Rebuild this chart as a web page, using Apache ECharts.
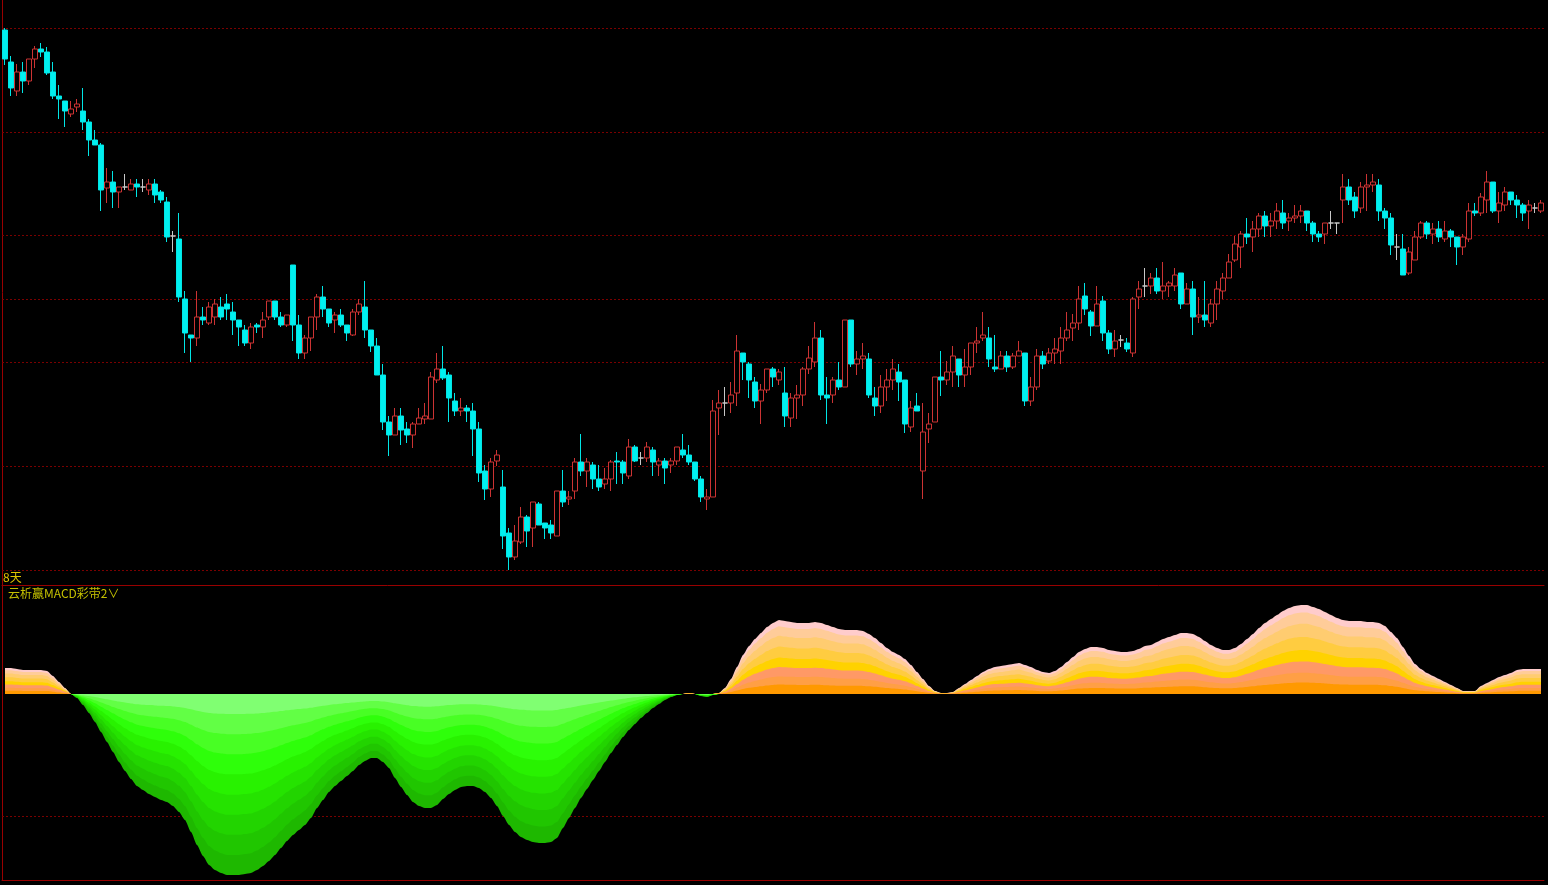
<!DOCTYPE html>
<html>
<head>
<meta charset="utf-8">
<script src="https://cdn.jsdelivr.net/npm/echarts@6/dist/echarts.min.js"></script>
<style>
html,body{margin:0;padding:0;background:#000;}
#c{width:1548px;height:885px;}
</style>
</head>
<body>
<div id="c"></div>
<script>
// ---- price data (one entry per trading day) ----
const open = [
 9.70,9.38,9.09,9.28,9.19,9.41,9.51,9.48,9.28,9.04,
 8.99,8.86,8.93,8.89,8.78,8.60,8.55,8.12,8.18,8.08,
 8.13,8.10,8.16,8.13,8.10,8.16,8.08,7.98,7.64,7.61,
 7.01,6.65,6.62,6.83,6.77,6.83,6.93,6.96,6.88,6.80,
 6.70,6.57,6.75,6.73,6.83,6.99,6.83,6.75,7.35,6.75,
 6.47,6.62,6.83,7.03,6.91,6.80,6.85,6.75,6.65,6.88,
 6.93,6.70,6.54,6.25,5.78,5.65,5.84,5.71,5.65,5.76,
 5.81,5.81,6.20,6.31,6.25,5.99,5.89,5.92,5.89,5.71,
 5.29,5.11,5.39,5.13,4.67,4.43,4.58,4.83,4.72,4.96,
 4.77,4.75,4.64,5.09,5.01,5.09,5.38,5.29,5.35,5.21,
 5.16,5.21,5.39,5.38,5.24,5.53,5.42,5.42,5.50,5.35,
 5.39,5.35,5.39,5.50,5.45,5.38,5.21,5.01,5.03,5.92,
 5.97,5.97,6.07,6.47,6.36,6.18,5.99,6.10,6.31,6.20,
 6.07,5.82,6.02,6.05,6.31,6.38,6.62,6.05,6.05,6.20,
 6.13,6.80,6.36,6.41,6.41,6.02,5.94,6.13,6.20,6.28,
 6.20,5.73,5.94,5.29,5.71,5.78,6.23,6.20,6.28,6.41,
 6.25,6.33,6.57,6.62,6.62,6.33,6.31,6.44,6.33,6.44,
 6.47,5.99,6.13,6.44,6.39,6.47,6.49,6.62,6.72,6.77,
 7.04,6.88,6.74,6.99,6.67,6.51,6.60,6.57,6.47,7.03,
 7.14,7.14,7.22,7.09,7.14,7.14,7.27,6.96,7.11,6.83,
 6.85,6.77,6.96,7.09,7.22,7.40,7.53,7.66,7.63,7.71,
 7.84,7.74,7.79,7.87,7.79,7.82,7.84,7.89,7.77,7.66,
 7.66,7.77,7.77,8.00,8.13,8.03,7.92,8.13,8.15,8.15,
 7.89,7.82,7.53,7.51,7.27,7.40,7.63,7.77,7.66,7.71,
 7.61,7.69,7.63,7.53,7.61,7.89,7.87,8.00,8.18,7.89,
 7.95,8.08,8.00,7.95,7.89,7.92,7.89
];
const close = [
 9.41,9.12,9.28,9.19,9.41,9.51,9.48,9.27,9.04,9.01,
 8.89,8.91,8.96,8.78,8.60,8.55,8.10,8.18,8.08,8.13,
 8.13,8.16,8.13,8.13,8.16,8.05,8.00,7.63,7.64,7.03,
 6.67,6.62,6.83,6.80,6.93,6.96,6.83,6.91,6.80,6.73,
 6.57,6.73,6.73,6.80,6.99,6.83,6.75,6.85,6.75,6.47,
 6.62,6.83,7.03,6.91,6.77,6.85,6.75,6.67,6.88,6.96,
 6.70,6.54,6.25,5.78,5.65,5.84,5.70,5.65,5.76,5.82,
 5.84,6.23,6.31,6.22,6.02,5.89,5.92,5.89,5.71,5.27,
 5.11,5.38,5.45,4.64,4.43,4.59,4.83,4.69,4.98,4.75,
 4.72,4.67,5.09,4.98,5.03,5.38,5.29,5.38,5.21,5.13,
 5.21,5.38,5.38,5.27,5.53,5.39,5.42,5.53,5.38,5.39,
 5.32,5.39,5.53,5.45,5.38,5.21,5.03,5.03,5.89,5.97,
 5.97,6.05,6.49,6.38,6.20,5.99,6.10,6.31,6.23,6.28,
 5.84,6.02,6.05,6.31,6.42,6.62,6.05,6.02,6.20,6.13,
 6.80,6.36,6.41,6.44,6.05,5.94,6.13,6.20,6.31,6.18,
 5.76,5.92,5.89,5.68,5.76,6.23,6.20,6.28,6.44,6.25,
 6.33,6.57,6.59,6.65,6.41,6.31,6.44,6.33,6.44,6.49,
 5.99,6.13,6.44,6.36,6.47,6.51,6.62,6.70,6.77,7.01,
 6.91,6.74,6.96,6.67,6.51,6.59,6.60,6.51,7.01,7.11,
 7.14,7.22,7.09,7.14,7.17,7.25,6.96,7.11,6.83,6.85,
 6.80,6.96,7.11,7.22,7.38,7.56,7.66,7.63,7.71,7.84,
 7.74,7.79,7.89,7.77,7.82,7.84,7.89,7.77,7.66,7.63,
 7.77,7.77,7.77,8.13,8.00,7.89,8.13,8.15,8.18,7.89,
 7.82,7.55,7.53,7.25,7.48,7.63,7.77,7.66,7.71,7.63,
 7.69,7.63,7.53,7.63,7.89,7.87,8.03,8.18,7.89,7.97,
 8.08,8.00,7.95,7.87,7.95,7.92,7.97
];
const low = [
 9.35,9.04,9.04,9.07,9.15,9.32,9.43,9.25,9.01,8.81,
 8.73,8.83,8.88,8.70,8.44,8.55,7.89,7.97,7.92,7.92,
 8.10,8.10,8.03,8.08,8.05,7.97,7.97,7.58,7.48,6.98,
 6.47,6.38,6.54,6.75,6.75,6.75,6.80,6.80,6.65,6.54,
 6.54,6.51,6.67,6.62,6.80,6.80,6.73,6.73,6.59,6.41,
 6.41,6.49,6.70,6.83,6.73,6.67,6.73,6.59,6.64,6.85,
 6.62,6.48,6.25,5.70,5.44,5.65,5.55,5.57,5.52,5.76,
 5.76,5.81,6.17,6.20,5.78,5.84,5.84,5.78,5.44,5.18,
 5.00,5.03,5.34,4.51,4.30,4.40,4.56,4.53,4.53,4.75,
 4.61,4.61,4.64,4.93,4.95,5.01,5.24,5.13,5.11,5.09,
 5.11,5.09,5.16,5.16,5.21,5.38,5.35,5.38,5.24,5.24,
 5.16,5.27,5.35,5.42,5.35,5.19,4.98,4.90,5.03,5.65,
 5.84,5.87,5.94,6.20,6.02,5.92,5.76,6.07,6.13,6.15,
 5.73,5.73,5.81,5.94,6.26,6.33,6.00,5.76,5.97,6.10,
 6.13,6.33,6.25,6.31,6.02,5.84,5.87,5.99,6.10,5.99,
 5.67,5.68,5.89,5.01,5.57,5.78,6.04,6.15,6.13,6.13,
 6.13,6.25,6.47,6.59,6.33,6.28,6.31,6.28,6.31,6.44,
 5.94,5.94,6.10,6.31,6.36,6.36,6.36,6.59,6.59,6.70,
 6.85,6.64,6.74,6.59,6.46,6.43,6.53,6.48,6.43,6.91,
 7.03,7.06,7.06,7.01,7.03,7.09,6.91,6.96,6.65,6.77,
 6.73,6.73,6.80,7.01,7.22,7.38,7.32,7.56,7.48,7.63,
 7.63,7.63,7.71,7.71,7.69,7.77,7.77,7.69,7.58,7.58,
 7.56,7.71,7.66,7.77,7.95,7.82,7.87,7.89,8.08,7.79,
 7.71,7.45,7.40,7.25,7.25,7.40,7.61,7.61,7.56,7.58,
 7.58,7.53,7.35,7.45,7.58,7.84,7.84,7.87,7.87,7.77,
 7.89,7.95,7.82,7.79,7.71,7.87,7.87
];
const high = [
 9.72,9.44,9.36,9.38,9.41,9.54,9.57,9.53,9.38,9.15,
 8.99,8.99,9.01,9.12,8.81,8.70,8.57,8.32,8.29,8.13,
 8.26,8.21,8.21,8.21,8.21,8.21,8.10,8.03,7.69,7.87,
 7.09,6.65,7.09,6.93,6.98,7.01,7.03,7.06,6.98,6.80,
 6.75,6.77,6.77,6.88,6.99,6.99,6.88,6.85,7.35,6.85,
 6.65,6.83,7.06,7.14,6.91,6.88,6.91,6.75,6.91,7.01,
 7.19,6.70,6.62,6.36,5.84,5.92,5.92,5.78,5.78,5.92,
 5.97,6.28,6.47,6.54,6.28,6.07,6.02,5.95,5.97,5.78,
 5.35,5.42,5.50,5.30,4.72,4.75,4.93,4.85,4.98,4.98,
 4.77,4.80,5.09,5.30,5.09,5.42,5.66,5.42,5.38,5.35,
 5.32,5.40,5.48,5.40,5.61,5.55,5.48,5.58,5.53,5.42,
 5.42,5.42,5.53,5.66,5.55,5.38,5.24,5.11,6.00,6.10,
 6.13,6.18,6.65,6.47,6.38,6.23,6.16,6.31,6.33,6.31,
 6.33,6.07,6.15,6.33,6.54,6.78,6.70,6.23,6.23,6.38,
 6.80,6.80,6.49,6.57,6.47,6.13,6.25,6.31,6.41,6.36,
 6.20,5.99,6.07,5.97,5.87,6.23,6.49,6.39,6.54,6.41,
 6.51,6.57,6.73,6.88,6.73,6.65,6.49,6.49,6.47,6.59,
 6.47,6.23,6.51,6.49,6.52,6.62,6.73,6.88,6.86,7.14,
 7.17,6.90,7.14,7.04,6.70,6.70,6.65,6.62,7.03,7.19,
 7.32,7.27,7.32,7.38,7.19,7.32,7.27,7.17,7.19,7.03,
 7.19,7.01,7.19,7.27,7.46,7.64,7.69,7.82,7.79,7.87,
 7.89,7.87,7.97,8.00,7.87,7.95,7.95,7.89,7.79,7.69,
 7.77,7.89,7.77,8.26,8.21,8.08,8.18,8.26,8.26,8.21,
 7.92,7.87,7.66,7.66,7.53,7.69,7.79,7.79,7.77,7.79,
 7.79,7.71,7.63,7.66,7.97,7.97,8.07,8.29,8.18,8.08,
 8.13,8.08,8.05,7.97,8.00,7.97,8.00
];
// dashed reference price levels drawn in the price panel
const priceLevels = [9.72, 8.68, 7.65, 7.01, 6.38, 5.34, 4.30];

// ---- MACD ribbon: outer envelope per day ----
const macd = [
 0.26,0.26,0.25,0.24,0.24,0.24,0.24,0.23,0.18,0.12,
 0.06,0.00,-0.04,-0.11,-0.19,-0.28,-0.38,-0.48,-0.58,-0.68,
 -0.77,-0.85,-0.92,-0.96,-1.00,-1.03,-1.06,-1.08,-1.12,-1.18,
 -1.26,-1.38,-1.51,-1.62,-1.71,-1.76,-1.79,-1.81,-1.81,-1.81,
 -1.80,-1.79,-1.76,-1.72,-1.67,-1.61,-1.54,-1.47,-1.41,-1.36,
 -1.31,-1.24,-1.14,-1.06,-0.98,-0.92,-0.87,-0.82,-0.77,-0.71,
 -0.67,-0.64,-0.64,-0.68,-0.74,-0.84,-0.93,-1.01,-1.08,-1.12,
 -1.14,-1.14,-1.11,-1.05,-1.00,-0.96,-0.93,-0.92,-0.92,-0.94,
 -0.98,-1.04,-1.12,-1.22,-1.31,-1.38,-1.43,-1.46,-1.48,-1.49,
 -1.49,-1.48,-1.44,-1.34,-1.24,-1.14,-1.04,-0.95,-0.86,-0.77,
 -0.68,-0.59,-0.51,-0.43,-0.36,-0.30,-0.24,-0.19,-0.14,-0.10,
 -0.06,-0.03,-0.01,0.00,0.01,0.00,-0.02,-0.03,-0.01,0.01,
 0.06,0.15,0.27,0.39,0.48,0.55,0.61,0.67,0.71,0.74,
 0.73,0.72,0.71,0.71,0.71,0.72,0.71,0.69,0.67,0.65,
 0.64,0.64,0.64,0.63,0.60,0.56,0.51,0.46,0.42,0.39,
 0.35,0.29,0.22,0.15,0.08,0.03,0.01,0.01,0.02,0.06,
 0.10,0.14,0.18,0.22,0.25,0.27,0.28,0.29,0.30,0.31,
 0.29,0.27,0.24,0.22,0.21,0.23,0.27,0.32,0.37,0.42,
 0.45,0.47,0.47,0.46,0.44,0.43,0.42,0.42,0.43,0.45,
 0.48,0.49,0.52,0.55,0.57,0.59,0.61,0.61,0.60,0.57,
 0.53,0.49,0.46,0.44,0.44,0.46,0.50,0.55,0.60,0.66,
 0.71,0.75,0.79,0.83,0.86,0.88,0.89,0.89,0.87,0.85,
 0.82,0.79,0.76,0.74,0.73,0.73,0.73,0.72,0.72,0.71,
 0.68,0.62,0.56,0.47,0.38,0.30,0.25,0.21,0.18,0.15,
 0.12,0.09,0.06,0.03,0.03,0.03,0.08,0.11,0.14,0.17,
 0.19,0.21,0.24,0.25,0.25,0.25,0.25
];
// ribbon bands: share of the envelope reached by each band (outer -> inner)
const posBandShare = [1, 0.916, 0.788, 0.641, 0.494, 0.366, 0.238, 0.128];
const posBandColors = ['#FFCCCC','#FFCC99','#FFCC70','#FFCC40','#FFD200','#FF9966','#FF9F45','#FF9900'];
const negBandShare = [1, 0.889, 0.778, 0.667, 0.556, 0.444, 0.333, 0.222, 0.111];
const negBandColors = ['#1EB800','#20C600','#22D400','#25E300','#28F200','#2EFF0A','#48FF24','#62FF45','#80FF72'];
const macdLevels = [-1.22];

const categories = open.map((_, i) => String(i + 1));
const kData = open.map((o, i) => [o, close[i], low[i], high[i]]);

const RED = '#990000';
const DASH = '#7A0000';

const series = [];
series.push({
  type: 'candlestick',
  xAxisIndex: 0, yAxisIndex: 0,
  data: kData,
  barWidth: 5,
  itemStyle: {
    color: '#000000',
    color0: '#00F0F0',
    borderColor: '#CC3333',
    borderColor0: '#00E6E6',
    borderColorDoji: '#C8C8C8',
    borderWidth: 1
  },
  markLine: {
    silent: true, symbol: 'none', z: 1,
    label: { show: false },
    lineStyle: { color: DASH, type: [2, 2], width: 1 },
    data: priceLevels.map(v => ({ yAxis: v }))
  }
});

// dashed level in MACD panel (behind ribbon)
series.push({
  type: 'line', xAxisIndex: 1, yAxisIndex: 1, data: [], z: 1,
  markLine: {
    silent: true, symbol: 'none', z: 1,
    label: { show: false },
    lineStyle: { color: DASH, type: [2, 2], width: 1 },
    data: macdLevels.map(v => ({ yAxis: v }))
  }
});

negBandShare.forEach((s, k) => {
  series.push({
    type: 'line', xAxisIndex: 1, yAxisIndex: 1, z: 2,
    data: macd.map(v => +(Math.min(v, 0) * s).toFixed(4)),
    showSymbol: false, symbol: 'none', silent: true,
    lineStyle: { width: 0 },
    areaStyle: { color: negBandColors[k], opacity: 1 },
    smooth: 0.2, smoothMonotone: 'x'
  });
});
posBandShare.forEach((s, k) => {
  series.push({
    type: 'line', xAxisIndex: 1, yAxisIndex: 1, z: 2,
    data: macd.map(v => +(Math.max(v, 0) * s).toFixed(4)),
    showSymbol: false, symbol: 'none', silent: true,
    lineStyle: { width: 0 },
    areaStyle: { color: posBandColors[k], opacity: 1 },
    smooth: 0.2, smoothMonotone: 'x'
  });
});

const chart = echarts.init(document.getElementById('c'), null, { renderer: 'canvas' });
chart.setOption({
  animation: false,
  backgroundColor: '#000000',
  title: [
    { text: '8天', left: 3, top: 571, padding: 0,
      textStyle: { color: '#E0C400', fontSize: 12, fontWeight: 'normal', fontFamily: 'Noto Sans CJK SC' } },
    { text: '云析赢MACD彩带2∨', left: 8, top: 587, padding: 0,
      textStyle: { color: '#C4C000', fontSize: 12, fontWeight: 'normal', fontFamily: 'Noto Sans CJK SC' } }
  ],
  grid: [
    { left: 2, right: 4, top: 0, height: 585 },
    { left: 2, right: 4, top: 586, bottom: 5 }
  ],
  xAxis: [
    { type: 'category', gridIndex: 0, data: categories, boundaryGap: true,
      axisLine: { show: true, onZero: false, lineStyle: { color: RED, width: 1 } },
      axisTick: { show: false }, axisLabel: { show: false }, splitLine: { show: false } },
    { type: 'category', gridIndex: 1, data: categories, boundaryGap: true,
      axisLine: { show: true, onZero: false, lineStyle: { color: RED, width: 1 } },
      axisTick: { show: false }, axisLabel: { show: false }, splitLine: { show: false } }
  ],
  yAxis: [
    { type: 'value', gridIndex: 0, min: 4.15, max: 10.00,
      axisLine: { show: true, onZero: false, lineStyle: { color: RED, width: 1 } },
      axisTick: { show: false }, axisLabel: { show: false }, splitLine: { show: false } },
    { type: 'value', gridIndex: 1, min: -1.86, max: 1.08,
      axisLine: { show: true, onZero: false, lineStyle: { color: RED, width: 1 } },
      axisTick: { show: false }, axisLabel: { show: false }, splitLine: { show: false } }
  ],
  series: series
});
</script>
</body>
</html>
